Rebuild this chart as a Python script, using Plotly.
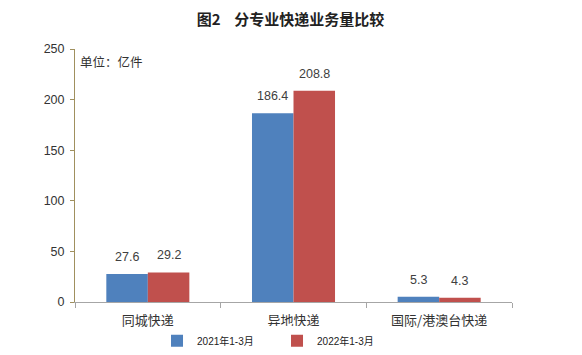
import plotly.graph_objects as go

categories = ["同城快递", "异地快递", "国际/港澳台快递"]
series_names = ["2021年1-3月", "2022年1-3月"]
values_2021 = [27.6, 186.4, 5.3]
values_2022 = [29.2, 208.8, 4.3]
colors = ["#4F81BD", "#C0504D"]

FONT = "Noto Sans CJK SC"
NUMFONT = "Liberation Sans, Noto Sans CJK SC"

fig = go.Figure()
for name, vals, col in zip(series_names, [values_2021, values_2022], colors):
    fig.add_trace(go.Bar(
        x=categories, y=vals, name=name, marker=dict(color=col, line=dict(width=0)),
    ))

# value labels placed above each bar via annotations (data coordinates)
bar_half = 20.8
annotations = []
for shift, vals in zip([-bar_half, bar_half], [values_2021, values_2022]):
    for c, v in zip(categories, vals):
        annotations.append(dict(
            x=c, y=v, text=f"{v:.1f}", xref="x", yref="y", showarrow=False,
            xshift=shift, yshift=17, xanchor="center", yanchor="middle",
            font=dict(size=12.5, color="#404040", family=NUMFONT)))

annotations.append(dict(text="单位：亿件", xref="paper", yref="paper", x=0.006, y=0.95,
                        xanchor="left", yanchor="middle", showarrow=False,
                        font=dict(size=12.5, color="#333333", family=FONT)))

# page body has an 8px default margin, so the figure is drawn 8px smaller
fig.update_layout(
    width=574, height=347,
    margin=dict(l=67, r=70, t=41, b=53, autoexpand=False),
    paper_bgcolor="white", plot_bgcolor="white",
    font=dict(family=FONT, color="#333333"),
    barmode="group", bargap=0.43, bargroupgap=0,
    title=dict(text="<b>图2    分专业快递业务量比较</b>", x=0.492, xanchor="center",
               y=0.965, yanchor="middle", font=dict(size=15, color="#222222")),
    showlegend=True,
    legend=dict(orientation="h", xref="container", yref="container",
                x=0.2596, y=0.041, xanchor="left", yanchor="middle",
                font=dict(size=10, color="#222222", family=NUMFONT),
                itemwidth=30, tracegroupgap=0, entrywidth=75),
    xaxis=dict(showline=True, linecolor="#A6A6A6", linewidth=1, ticks="outside",
               tickcolor="#A6A6A6", ticklen=5, tickson="boundaries", automargin=False,
               ticklabelstandoff=6,
               tickfont=dict(size=13, color="#333333"), showgrid=False),
    yaxis=dict(range=[0, 250], dtick=50, showline=True, linecolor="#A0905E",
               linewidth=1, ticks="outside", tickcolor="#A0905E", ticklen=4,
               automargin=False, ticklabelstandoff=3,
               tickfont=dict(size=12.5, color="#333333", family=NUMFONT),
               showgrid=False, zeroline=False),
    annotations=annotations,
)

fig.write_html("out.html")
